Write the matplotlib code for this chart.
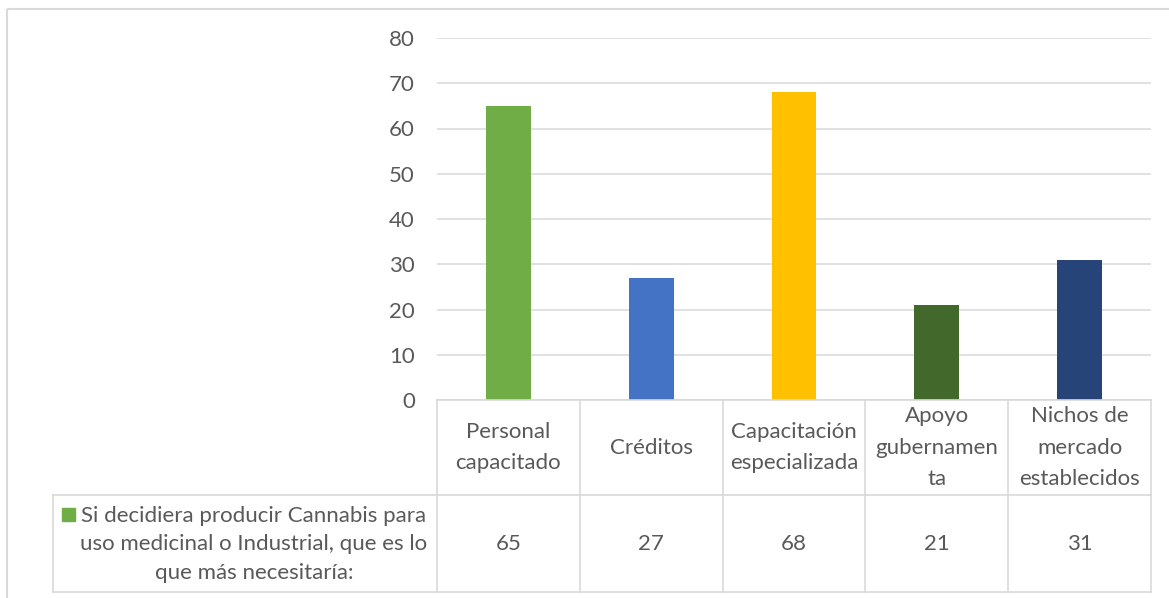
import matplotlib
matplotlib.use("Agg")
import matplotlib.pyplot as plt
import matplotlib.transforms as mtransforms
from matplotlib.lines import Line2D
from matplotlib.patches import Rectangle

# ---- data ----
categories = ["Personal\ncapacitado", "Créditos", "Capacitación\nespecializada",
              "Apoyo\ngubernamen\nta", "Nichos de\nmercado\nestablecidos"]
values = [65, 27, 68, 21, 31]
bar_colors = ["#70AD47", "#4472C4", "#FFC000", "#43682B", "#264478"]
series_name = ("Si decidiera producir Cannabis para\n"
               "uso medicinal o Industrial, que es lo\n"
               "que más necesitaría:")
y_ticks = [0, 10, 20, 30, 40, 50, 60, 70, 80]

# ---- style ----
plt.rcParams['font.family'] = ['Lato', 'DejaVu Sans']
TEXT = "#595959"
GRID = "#D9D9D9"
FS = 16
LS = 1.7

W, H = 1169, 598
fig = plt.figure(figsize=(W / 100, H / 100), dpi=100)
fig.patch.set_facecolor("white")


def fx(px):
    return px / W


def fy(py):
    return 1 - py / H


# pixel transform (origin top-left)
pix = mtransforms.Affine2D().scale(1 / W, -1 / H).translate(0, 1) + fig.transFigure

ax = fig.add_axes([fx(437), fy(400), fx(1151) - fx(437), fy(38) - fy(400)])
xs = list(range(len(values)))
ax.bar(xs, values, width=0.315, color=bar_colors, zorder=3)
ax.set_xlim(-0.5, len(values) - 0.5)
ax.set_ylim(0, y_ticks[-1])
ax.set_yticks(y_ticks)
ax.yaxis.grid(True, color=GRID, lw=1.1)
ax.set_axisbelow(True)
for s in ax.spines.values():
    s.set_visible(False)
ax.tick_params(axis='y', length=0, pad=16, labelsize=FS, labelcolor=TEXT)
ax.set_xticks([])

# ---- data table ----
blend = mtransforms.blended_transform_factory(ax.transData, pix)
TOP, MID, BOT = 400, 495, 592
LEG_L = 53
lw = 1.2
n = len(values)
fig.add_artist(Line2D([-0.5, n - 0.5], [TOP, TOP], transform=blend, color=GRID, lw=lw))
for yy in (MID, BOT):
    fig.add_artist(Line2D([LEG_L, 437], [yy, yy], transform=pix, color=GRID, lw=lw))
    fig.add_artist(Line2D([-0.5, n - 0.5], [yy, yy], transform=blend, color=GRID, lw=lw))
for b in range(n + 1):
    fig.add_artist(Line2D([b - 0.5, b - 0.5], [TOP, BOT], transform=blend, color=GRID, lw=lw))
fig.add_artist(Line2D([LEG_L, LEG_L], [MID, BOT], transform=pix, color=GRID, lw=lw))

for i, (cat, v) in enumerate(zip(categories, values)):
    fig.text(i, (TOP + MID) / 2, cat, transform=blend, ha='center', va='center',
             multialignment='center', fontsize=FS, color=TEXT, linespacing=LS)
    fig.text(i, (MID + BOT) / 2, str(v), transform=blend, ha='center', va='center',
             fontsize=FS, color=TEXT)

# legend cell
fig.add_artist(Rectangle((62, 508), 13, 13, transform=pix, color=bar_colors[0]))
fig.text(254, (MID + BOT) / 2 + 1, series_name, transform=pix, ha='center', va='center',
         multialignment='center', fontsize=FS, color=TEXT, linespacing=1.55)

# chart frame
fig.add_artist(Rectangle((7, 9), 1300, 700, transform=pix, fill=False,
                         edgecolor=GRID, lw=1.5))

fig.savefig("out.png", dpi=100)
